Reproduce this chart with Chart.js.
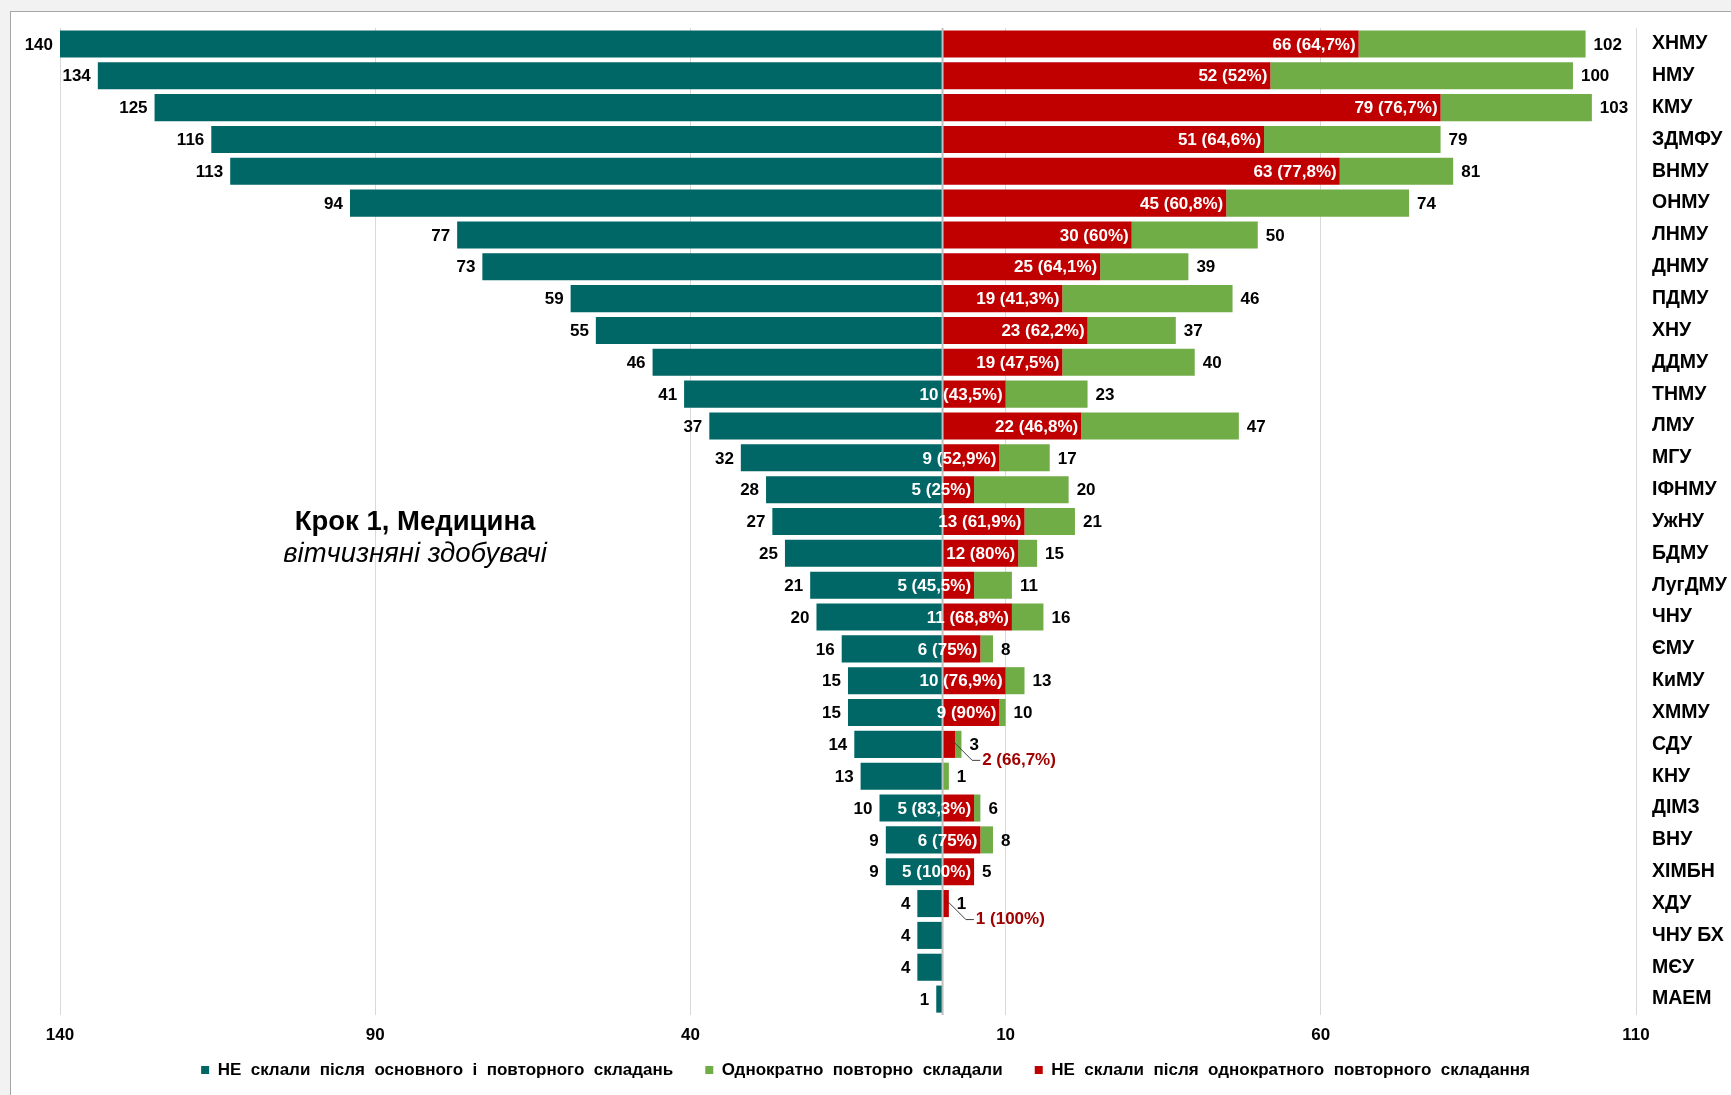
<!DOCTYPE html>
<html>
<head>
<meta charset="utf-8">
<script src="https://cdn.jsdelivr.net/npm/chart.js@4/dist/chart.umd.min.js"></script>
<style>
html,body{margin:0;padding:0;background:#f2f2f2;width:1731px;height:1095px;overflow:hidden}
#frame{position:absolute;left:10px;top:11px;width:1725px;height:1090px;background:#fff;border:1px solid #a6a6a6}
#wrap{position:absolute;left:0;top:0;width:1731px;height:1095px}
</style>
</head>
<body>
<div id="frame"></div>
<div id="wrap"><canvas id="c" width="1731" height="1095"></canvas></div>
<script>
const categories = ['ХНМУ','НМУ','КМУ','ЗДМФУ','ВНМУ','ОНМУ','ЛНМУ','ДНМУ','ПДМУ','ХНУ','ДДМУ','ТНМУ','ЛМУ','МГУ','ІФНМУ','УжНУ','БДМУ','ЛугДМУ','ЧНУ','ЄМУ','КиМУ','ХММУ','СДУ','КНУ','ДІМЗ','ВНУ','ХІМБН','ХДУ','ЧНУ БХ','МЄУ','МАЕМ'];
const failedBoth = [140,134,125,116,113,94,77,73,59,55,46,41,37,32,28,27,25,21,20,16,15,15,14,13,10,9,9,4,4,4,1];
const retook = [102,100,103,79,81,74,50,39,46,37,40,23,47,17,20,21,15,11,16,8,13,10,3,1,6,8,5,1,0,0,0];
const failedRetake = [66,52,79,51,63,45,30,25,19,23,19,10,22,9,5,13,12,5,11,6,10,9,2,0,5,6,5,1,0,0,0];
const failedRetakePct = ['64,7%','52%','76,7%','64,6%','77,8%','60,8%','60%','64,1%','41,3%','62,2%','47,5%','43,5%','46,8%','52,9%','25%','61,9%','80%','45,5%','68,8%','75%','76,9%','90%','66,7%','','83,3%','75%','100%','100%','','',''];
const xTickValues = [-140,-90,-40,10,60,110];
const seriesNames = ['НЕ  склали  після  основного  і  повторного  складань','НЕ  склали  після  однократного  повторного  складання','Однократно  повторно  складали'];
const titleLine1 = 'Крок 1, Медицина';
const titleLine2 = 'вітчизняні здобувачі';

const FONT = '"Liberation Sans", Arial, sans-serif';
const legendOrder = [0, 2, 1];

const labelPlugin = {
  id: 'barLabels',
  afterDatasetsDraw(chart) {
    const {ctx, scales: {x, y}, chartArea} = chart;
    ctx.save();
    const x0 = x.getPixelForValue(0);
    ctx.strokeStyle = '#bfbfbf';
    ctx.lineWidth = 2;
    ctx.beginPath();
    ctx.moveTo(x0, chartArea.top);
    ctx.lineTo(x0, chartArea.bottom);
    ctx.stroke();

    ctx.font = 'bold 17px ' + FONT;
    ctx.textBaseline = 'middle';
    categories.forEach((c, i) => {
      const yc = y.getPixelForValue(i) + 1;
      ctx.fillStyle = '#000';
      ctx.textAlign = 'right';
      ctx.fillText(String(failedBoth[i]), x.getPixelForValue(-failedBoth[i]) - 7, yc);
      if (retook[i] > 0) {
        ctx.textAlign = 'left';
        ctx.fillText(String(retook[i]), x.getPixelForValue(retook[i]) + 8, yc);
      }
      const r = failedRetake[i];
      if (r > 0) {
        const txt = r + ' (' + failedRetakePct[i] + ')';
        const xe = x.getPixelForValue(r);
        if (r > 2) {
          ctx.fillStyle = '#fff';
          ctx.textAlign = 'right';
          ctx.fillText(txt, xe - 3, yc);
        } else {
          const sx = xe - 2, sy = yc - 4;
          const mx = xe + 17, my = yc + 15;
          ctx.strokeStyle = '#404040';
          ctx.lineWidth = 1;
          ctx.beginPath();
          ctx.moveTo(sx, sy);
          ctx.lineTo(mx, my);
          ctx.lineTo(mx + 8, my);
          ctx.stroke();
          ctx.fillStyle = '#a00000';
          ctx.textAlign = 'left';
          ctx.fillText(txt, mx + 10, my);
        }
      }
    });

    ctx.fillStyle = '#000';
    ctx.textAlign = 'center';
    ctx.textBaseline = 'alphabetic';
    ctx.font = 'bold 27.5px ' + FONT;
    ctx.fillText(titleLine1, 415, 530);
    ctx.font = 'italic 27.5px ' + FONT;
    ctx.fillText(titleLine2, 415, 562);
    ctx.restore();
  }
};

new Chart(document.getElementById('c'), {
  type: 'bar',
  data: {
    labels: categories,
    datasets: [
      {label: seriesNames[0], data: failedBoth.map(v => -v), backgroundColor: '#006666', stack: 's', yAxisID: 'y'},
      {label: seriesNames[1], data: failedRetake, backgroundColor: '#c00000', stack: 's', yAxisID: 'y'},
      {label: seriesNames[2], data: retook.map((v, i) => v - failedRetake[i]), backgroundColor: '#70ad47', stack: 's', yAxisID: 'y'}
    ]
  },
  options: {
    indexAxis: 'y',
    responsive: false,
    animation: false,
    devicePixelRatio: 1,
    layout: {padding: {top: 28, left: 0, right: 0, bottom: 6.5}},
    datasets: {bar: {categoryPercentage: 1, barPercentage: 0.85}},
    scales: {
      x: {
        stacked: true,
        min: -140,
        max: 110,
        afterBuildTicks: s => { s.ticks = xTickValues.map(v => ({value: v})); },
        afterFit: s => { s.height = 28.5; },
        grid: {color: '#d9d9d9', lineWidth: 1, drawTicks: false},
        border: {display: false},
        ticks: {
          padding: 10,
          color: '#000',
          font: {family: FONT, size: 17, weight: 'bold'},
          callback: v => String(Math.abs(v)),
          maxRotation: 0
        }
      },
      y: {
        stacked: true,
        position: 'right',
        afterFit: s => { s.width = 95; },
        grid: {display: false, drawTicks: false},
        border: {display: false},
        ticks: {
          padding: 16,
          color: '#000',
          font: {family: FONT, size: 19.5, weight: 'bold'},
          autoSkip: false
        }
      },
      yLeft: {
        type: 'category',
        axis: 'y',
        position: 'left',
        afterFit: s => { s.width = 60; },
        grid: {display: false, drawTicks: false},
        border: {display: false},
        ticks: {display: false}
      }
    },
    plugins: {
      legend: {
        position: 'bottom',
        labels: {
          boxWidth: 8,
          boxHeight: 8,
          padding: 18,
          color: '#000',
          font: {family: FONT, size: 17, weight: 'bold'},
          generateLabels: chart => {
            const items = Chart.defaults.plugins.legend.labels.generateLabels(chart);
            return items.map(it => {
              if (legendOrder.indexOf(it.datasetIndex) < legendOrder.length - 1) it.text = it.text + '   ';
              return it;
            });
          },
          sort: (a, b) => legendOrder.indexOf(a.datasetIndex) - legendOrder.indexOf(b.datasetIndex)
        }
      },
      tooltip: {enabled: false}
    }
  },
  plugins: [labelPlugin]
});
</script>
</body>
</html>
